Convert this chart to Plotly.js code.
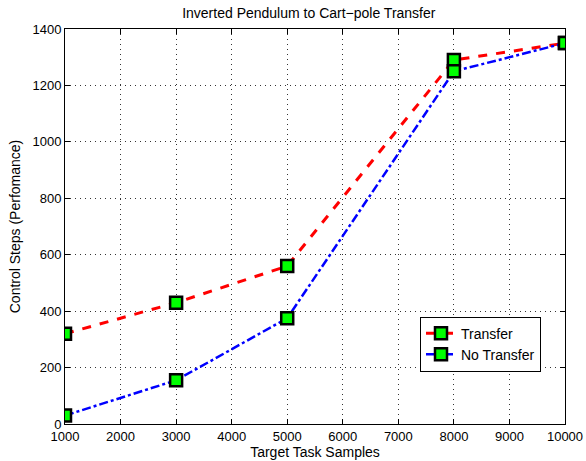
<!DOCTYPE html>
<html><head><meta charset="utf-8">
<script src="https://cdn.plot.ly/plotly-3.0.1.min.js"></script>
<style>html,body{margin:0;padding:0;background:#fff}#chart{width:586px;height:461px}</style>
</head><body><div id="chart"></div>
<script>
const samples = [1000, 3000, 5000, 8000, 10000];
const transfer = [320, 430, 560, 1290, 1350];
const noTransfer = [30, 155, 375, 1250, 1350];
const xTicks = [1000,2000,3000,4000,5000,6000,7000,8000,9000,10000];
const yTicks = [0,200,400,600,800,1000,1200,1400];

const marker = {symbol:'square', size:12, color:'#00ff00', line:{color:'#000', width:2.5}};
const traces = [
  {x:samples, y:transfer, name:'Transfer', mode:'lines+markers',
   line:{color:'#ff0000', width:3, dash:'dash'}, marker:marker},
  {x:samples, y:noTransfer, name:'No Transfer', mode:'lines+markers',
   line:{color:'#0000ff', width:2.5, dash:'dashdot'}, marker:marker}
];
const fam = 'Liberation Sans, Arial, sans-serif';
const tickFont = {family:fam, size:13, color:'#000'};
const titleFont = {family:fam, size:14, color:'#000'};
const axisCommon = {showline:true, linecolor:'#000', linewidth:1, mirror:'ticks', ticks:'inside',
  ticklen:5, tickcolor:'#000', showgrid:true, gridcolor:'#333', griddash:'1px,4px', gridwidth:1,
  zeroline:false, tickfont:tickFont};
const layout = {
  width:586, height:461,
  margin:{l:65, r:21, t:29, b:37},
  paper_bgcolor:'#fff', plot_bgcolor:'#fff',
  font:tickFont,
  title:{text:'Inverted Pendulum to Cart\u2212pole Transfer', font:titleFont, x:0.527, xanchor:'center', y:0.982, yanchor:'top'},
  xaxis:Object.assign({}, axisCommon, {range:[1000,10000], tickvals:xTicks, ticktext:xTicks.map(String),
     title:{text:'Target Task Samples', font:titleFont, standoff:2}}),
  yaxis:Object.assign({}, axisCommon, {range:[0,1400], tickvals:yTicks, ticktext:yTicks.map(String),
     title:{text:'Control Steps (Perfomance)', font:titleFont, standoff:8}}),
  showlegend:true,
  legend:{x:0.71, y:0.272, xanchor:'left', yanchor:'top', bgcolor:'#fff', bordercolor:'#000', borderwidth:1,
     font:{family:fam, size:14, color:'#000'}, tracegroupgap:0}
};
Plotly.newPlot('chart', traces, layout, {displayModeBar:false, staticPlot:true});
</script></body></html>
